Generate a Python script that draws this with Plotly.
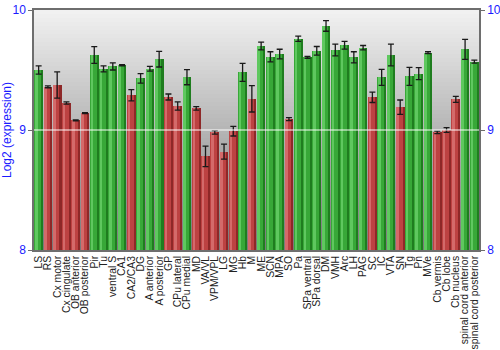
import plotly.graph_objects as go

regions = ["LS", "RS", "Cx motor", "Cx cingulate", "OB anterior", "OB posterior", "Pir", "Tu",
           "ventral S", "CA1", "CA2/CA3", "DG", "A anterior", "A posterior", "GP", "CPu lateral",
           "CPu medial", "MD", "VA/VL", "VPM/VPL", "LG", "MG", "Hb", "M", "ME", "SCN", "MPA", "SO",
           "Pa", "SPa ventral", "SPa dorsal", "DM", "VMH", "Arc", "LH", "PAG", "SC", "IC", "VTA",
           "SN", "Tg", "Pn", "MVe", "Cb vermis", "Cb lobe", "Cb nucleus", "spinal cord anterior",
           "spinal cord posterior"]
expression = [9.50, 9.36, 9.375, 9.225, 9.08, 9.14, 9.625, 9.51,
              9.53, 9.54, 9.29, 9.43, 9.51, 9.59, 9.275, 9.20,
              9.44, 9.18, 8.78, 8.98, 8.82, 8.99, 9.48, 9.26, 9.70, 9.61, 9.633, 9.09,
              9.76, 9.606, 9.66, 9.867, 9.667, 9.706, 9.606, 9.686, 9.272, 9.439, 9.625,
              9.19, 9.447, 9.47, 9.644, 8.98, 9.00, 9.256, 9.672,
              9.57]
error = [0.035, 0.008, 0.11, 0.01, 0.004, 0.004, 0.07, 0.025,
         0.03, 0.005, 0.047, 0.04, 0.02, 0.065, 0.025, 0.035,
         0.063, 0.014, 0.085, 0.014, 0.063, 0.04, 0.075, 0.11, 0.033, 0.042, 0.04, 0.0125,
         0.022, 0.008, 0.036, 0.044, 0.049, 0.032, 0.046, 0.018, 0.043, 0.067, 0.09,
         0.06, 0.075, 0.05, 0.008, 0.011, 0.02, 0.025, 0.083,
         0.0125]
high = [1, 0, 0, 0, 0, 0, 1, 1,
        1, 1, 0, 1, 1, 1, 0, 0,
        1, 0, 0, 0, 0, 0, 1, 0, 1, 1, 1, 0,
        1, 1, 1, 1, 1, 1, 1, 1, 0, 1, 1,
        0, 1, 1, 1, 0, 0, 0, 1,
        1]

y_ticks = [8, 9, 10]

# colour layers: (edge/dark, main, highlight)
GREEN = ("#1f7d1f", "#38a838", "#5fc85f")
RED = ("#8e2828", "#bd4242", "#d46a6a")


def pick(level):
    return [GREEN[level] if h else RED[level] for h in high]


fig = go.Figure()

# layered bars to imitate the horizontal gradient
fig.add_trace(go.Bar(x=regions, y=expression, width=0.94, marker=dict(color=pick(0), line=dict(width=0)),
                     hoverinfo="skip", showlegend=False))
fig.add_trace(go.Bar(x=regions, y=expression, width=0.72, offset=-0.47,
                     marker=dict(color=pick(1), line=dict(width=0)), hoverinfo="skip", showlegend=False))
fig.add_trace(go.Bar(x=regions, y=expression, width=0.28, offset=-0.40,
                     marker=dict(color=pick(2), line=dict(width=0)), hoverinfo="skip", showlegend=False))

# error bars
fig.add_trace(go.Scatter(x=regions, y=expression, mode="markers", marker=dict(size=1, opacity=0),
                         error_y=dict(type="data", array=error, color="#1a1a1a", thickness=1.3, width=3),
                         hoverinfo="skip", showlegend=False))

# invisible trace for the right-hand axis
fig.add_trace(go.Scatter(x=regions[:1], y=[9], yaxis="y2", mode="markers", marker=dict(opacity=0),
                         hoverinfo="skip", showlegend=False))

# background gradient
n = 60
for i in range(n):
    t0 = i / n
    t1 = (i + 1) / n
    tm = (t0 + t1) / 2  # 0 bottom, 1 top
    g = int(round(120 + (242 - 120) * tm))
    fig.add_shape(type="rect", xref="x domain", yref="y domain", x0=0, x1=1, y0=t0, y1=t1 + 0.002,
                  fillcolor=f"rgb({g},{g},{g})", line=dict(width=0), layer="below")

# white grid line drawn above bars
fig.add_shape(type="line", xref="x domain", yref="y", x0=0, x1=1, y0=9, y1=9,
              line=dict(color="rgba(255,255,255,0.65)", width=1.5), layer="above")

axis_col = "#6e6e6e"
fig.update_layout(
    width=500, height=350,
    margin=dict(l=34, r=21, t=10, b=100),
    paper_bgcolor="white", plot_bgcolor="white",
    barmode="overlay", bargap=0.0,
    font=dict(family="Liberation Sans, Arial, sans-serif", size=11, color="#222222"),
    xaxis=dict(range=[-0.5, len(regions) - 0.5], tickmode="array", tickvals=regions, ticktext=regions,
               tickangle=-90, showgrid=False, ticks="", showline=True, linecolor=axis_col, linewidth=1.5,
               mirror=True, automargin=False, tickfont=dict(size=10.4, color="#222222")),
    yaxis=dict(range=[8, 10], tickvals=y_ticks, showgrid=False, zeroline=False, ticks="outside",
               ticklen=4, tickcolor=axis_col, showline=True, linecolor=axis_col, linewidth=1.5,
               automargin=False, tickfont=dict(size=12, color="#1a1aff"),
               title=dict(text="Log2 (expression)", font=dict(size=12, color="#1a1aff"), standoff=6)),
    yaxis2=dict(range=[8, 10], tickvals=y_ticks, overlaying="y", side="right", showgrid=False,
                zeroline=False, ticks="outside", ticklen=4, tickcolor=axis_col, showline=True,
                linecolor=axis_col, linewidth=1.5, automargin=False, tickfont=dict(size=12, color="#1a1aff")),
)

fig.write_html("out.html")
